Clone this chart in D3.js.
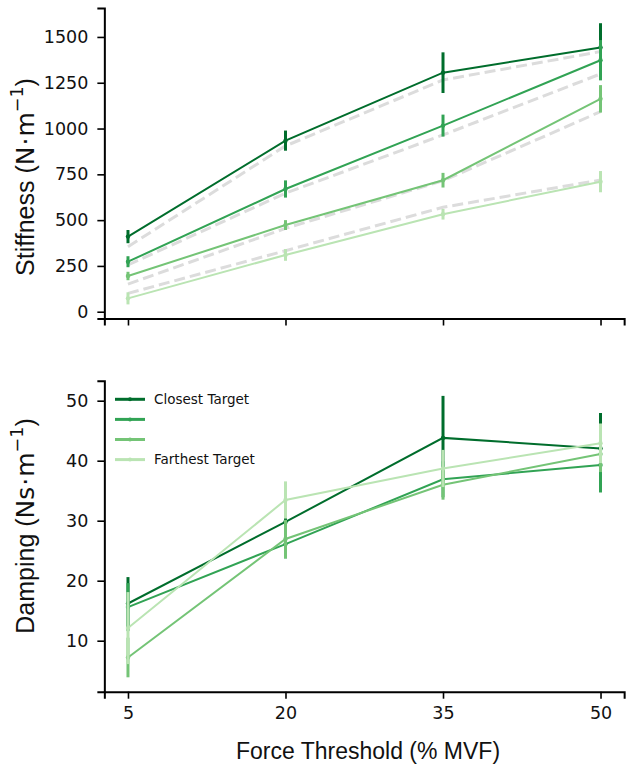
<!DOCTYPE html>
<html>
<head>
<meta charset="utf-8">
<script src="https://cdn.jsdelivr.net/npm/d3@7"></script>
<style>
  body { margin: 0; background: #fff; }
  svg { display: block; }
</style>
</head>
<body>
<div id="chart"></div>
<script>
// x positions (force threshold, % MVF)
const thresholds = [5, 20, 35, 50];
const seriesNames = ["Closest Target", "", "", "Farthest Target"];
const colors = ["#006d2c", "#31a354", "#74c476", "#bae4b3"];

// stiffness means / error half-widths, one row per target distance
const stiffness = [
  [410, 934, 1305, 1442],
  [273, 670, 1016, 1373],
  [195, 473, 718, 1162],
  [73, 310, 532, 710]
];
const stiffnessErr = [
  [36, 55, 111, 133],
  [30, 47, 60, 110],
  [23, 27, 40, 75],
  [33, 32, 29, 58]
];
// grey dashed model lines
const stiffnessFit = [
  [355, 905, 1265, 1420],
  [255, 647, 965, 1298],
  [151, 455, 715, 1092],
  [100, 333, 570, 719]
];

// damping means / error half-widths
const damping = [
  [16.2, 29.8, 43.8, 42.05],
  [15.6, 26.1, 36.9, 39.3],
  [7.2, 26.95, 36.0, 41.1],
  [12.1, 33.45, 38.7, 42.9]
];
const dampingErr = [
  [4.4, 2.5, 7.0, 5.9],
  [4.0, 2.4, 3.0, 4.6],
  [3.3, 3.2, 2.5, 3.0],
  [6.0, 3.1, 3.1, 3.3]
];

const stiffTicks = [0, 250, 500, 750, 1000, 1250, 1500];
const dampTicks = [10, 20, 30, 40, 50];

const width = 629, height = 766;
const svg = d3.select("#chart").append("svg")
  .attr("width", width)
  .attr("height", height);

const x = d3.scaleLinear().domain([2.75, 52.25]).range([104.35, 624.15]);

const panels = [
  {values: stiffness, errs: stiffnessErr, fit: stiffnessFit, ticks: stiffTicks,
   y: d3.scaleLinear().domain([-37, 1658]).range([318.5, 8]),
   label: ["Stiffness (", "N"], labelY: 177, showX: false},
  {values: damping, errs: dampingErr, fit: null, ticks: dampTicks,
   y: d3.scaleLinear().domain([1.5, 53.33]).range([691.7, 380.7]),
   label: ["Damping (", "Ns"], labelY: 526, showX: true}
];

const tickFont = "'DejaVu Sans', sans-serif";
const labelFont = "'Liberation Sans', Arial, sans-serif";

panels.forEach(p => {
  const g = svg.append("g");
  const [y0, y1] = p.y.range();

  // dashed grey lines underneath
  if (p.fit) {
    const line = d3.line().x((d, i) => x(thresholds[i])).y(d => p.y(d));
    g.append("g").selectAll("path")
      .data(p.fit)
      .join("path")
      .attr("d", line)
      .attr("fill", "none")
      .attr("stroke", "#dcdcdc")
      .attr("stroke-width", 3)
      .attr("stroke-dasharray", "11,5");
  }

  p.values.forEach((row, s) => {
    const sg = g.append("g");
    const line = d3.line().x((d, i) => x(thresholds[i])).y(d => p.y(d));
    sg.append("path")
      .attr("d", line(row))
      .attr("fill", "none")
      .attr("stroke", colors[s])
      .attr("stroke-width", 2);
    sg.selectAll("line.err")
      .data(row)
      .join("line")
      .attr("class", "err")
      .attr("x1", (d, i) => x(thresholds[i]))
      .attr("x2", (d, i) => x(thresholds[i]))
      .attr("y1", (d, i) => p.y(d - p.errs[s][i]))
      .attr("y2", (d, i) => p.y(d + p.errs[s][i]))
      .attr("stroke", colors[s])
      .attr("stroke-width", 3);
    sg.selectAll("circle")
      .data(row)
      .join("circle")
      .attr("cx", (d, i) => x(thresholds[i]))
      .attr("cy", d => p.y(d))
      .attr("r", 2.2)
      .attr("fill", colors[s]);
  });

  // axes
  const yAxis = g.append("g")
    .attr("transform", `translate(${x.range()[0]},0)`)
    .call(d3.axisLeft(p.y).tickValues(p.ticks).tickSize(7).tickPadding(9)
      .tickFormat(d3.format("d")));
  const xAxis = g.append("g")
    .attr("transform", `translate(0,${y0})`)
    .call(d3.axisBottom(x).tickValues(thresholds).tickSize(7).tickPadding(8)
      .tickFormat(p.showX ? d3.format("d") : () => ""));

  [yAxis, xAxis].forEach(a => {
    a.select(".domain").attr("stroke", "#000").attr("stroke-width", 2);
    a.selectAll(".tick line").attr("stroke", "#000").attr("stroke-width", 1.6);
    a.selectAll(".tick text")
      .attr("fill", "#111")
      .style("font-family", tickFont)
      .style("font-size", "17.5px");
  });

  // y label: plain part + math part with superscript
  const lab = g.append("text")
    .attr("transform", `translate(34,${p.labelY}) rotate(-90)`)
    .attr("text-anchor", "middle")
    .attr("fill", "#111")
    .style("font-family", labelFont)
    .style("font-size", "25px");
  lab.append("tspan").text(p.label[0]);
  lab.append("tspan").style("font-family", tickFont).text(p.label[1]);
  lab.append("tspan").attr("dx", 1).style("font-family", tickFont).text("·");
  lab.append("tspan").attr("dx", 1).style("font-family", tickFont).text("m");
  lab.append("tspan").attr("dy", -11).style("font-family", tickFont)
    .style("font-size", "17.5px").text("−1");
  lab.append("tspan").attr("dy", 11).text(")");
});

// x label
svg.append("text")
  .attr("x", 368)
  .attr("y", 759)
  .attr("text-anchor", "middle")
  .attr("fill", "#111")
  .style("font-family", labelFont)
  .style("font-size", "23px")
  .text("Force Threshold (% MVF)");

// legend in the damping panel
const legend = svg.append("g");
seriesNames.forEach((name, i) => {
  const ly = 399.3 + i * 20.1;
  legend.append("line")
    .attr("x1", 115).attr("x2", 145)
    .attr("y1", ly).attr("y2", ly)
    .attr("stroke", colors[i])
    .attr("stroke-width", 3);
  legend.append("circle")
    .attr("cx", 130).attr("cy", ly).attr("r", 2)
    .attr("fill", colors[i]);
  legend.append("text")
    .attr("x", 154).attr("y", ly)
    .attr("dy", "0.36em")
    .attr("fill", "#111")
    .style("font-family", tickFont)
    .style("font-size", "13.5px")
    .text(name);
});
</script>
</body>
</html>
